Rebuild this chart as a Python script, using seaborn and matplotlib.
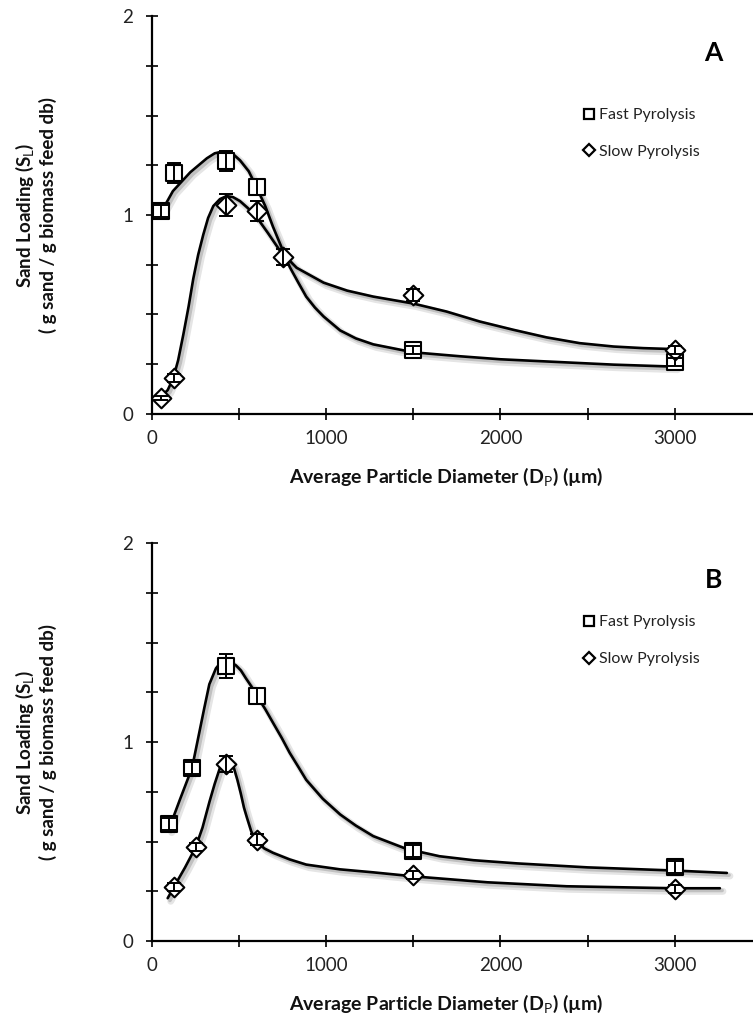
import matplotlib
matplotlib.use("Agg")
import matplotlib.pyplot as plt
import matplotlib.patheffects as pe
from matplotlib.lines import Line2D
from matplotlib.ticker import MultipleLocator, FixedLocator
import pandas as pd
import seaborn as sns

sns.set_style("white")
plt.rcParams["font.family"] = ["Lato", "DejaVu Sans"]
plt.rcParams["mathtext.fontset"] = "custom"
plt.rcParams["mathtext.rm"] = "Lato"
plt.rcParams["mathtext.bf"] = "Lato:bold"

# ---- Panel A: measured sand loading (mean and error) ----
dp_a_fast = [50, 125, 425, 600, 1500, 3000]
sl_a_fast = [1.02, 1.21, 1.27, 1.14, 0.32, 0.26]
err_a_fast = [0.03, 0.05, 0.05, 0.04, 0.02, 0.02]

dp_a_slow = [50, 125, 425, 600, 750, 1500, 3000]
sl_a_slow = [0.08, 0.18, 1.05, 1.02, 0.79, 0.60, 0.32]
err_a_slow = [0.01, 0.02, 0.055, 0.05, 0.04, 0.03, 0.02]

# ---- Panel A: fitted trend curves ----
fit_a_fast_x = [50, 120, 220, 315, 360, 410, 460, 505, 555, 600, 650, 695, 745, 790, 840,
                885, 935, 985, 1080, 1170, 1270, 1500, 1770, 2000, 2265, 2650, 3000]
fit_a_fast_y = [1.01, 1.12, 1.215, 1.285, 1.31, 1.32, 1.31, 1.275, 1.22, 1.14, 1.045, 0.94,
                0.835, 0.74, 0.66, 0.59, 0.535, 0.49, 0.42, 0.38, 0.35, 0.31, 0.29, 0.275,
                0.264, 0.248, 0.238]

fit_a_slow_x = [50, 90, 122, 150, 180, 210, 237, 265, 294, 322, 352, 390, 428, 465, 505, 550,
                600, 665, 735, 830, 985, 1120, 1270, 1500, 1690, 1880, 2075, 2265, 2455, 2650,
                2820, 3000]
fit_a_slow_y = [0.085, 0.12, 0.18, 0.27, 0.40, 0.54, 0.68, 0.80, 0.90, 0.985, 1.045, 1.08,
                1.095, 1.09, 1.07, 1.035, 0.99, 0.91, 0.82, 0.735, 0.66, 0.62, 0.59, 0.555,
                0.515, 0.465, 0.423, 0.385, 0.356, 0.339, 0.331, 0.326]

# ---- Panel B: measured sand loading (mean and error) ----
dp_b_fast = [100, 230, 425, 600, 1500, 3000]
sl_b_fast = [0.59, 0.87, 1.38, 1.23, 0.45, 0.37]
err_b_fast = [0.03, 0.03, 0.06, 0.04, 0.03, 0.03]

dp_b_slow = [125, 250, 425, 600, 1500, 3000]
sl_b_slow = [0.27, 0.47, 0.89, 0.51, 0.33, 0.26]
err_b_slow = [0.02, 0.02, 0.04, 0.03, 0.02, 0.02]

# ---- Panel B: fitted trend curves ----
fit_b_fast_x = [96, 160, 230, 272, 300, 329, 367, 395, 415, 445, 482, 510, 539, 570, 600, 650,
                695, 745, 790, 840, 885, 980, 1080, 1170, 1270, 1460, 1650, 1845, 2095, 2500,
                3000, 3300]
fit_b_fast_y = [0.56, 0.71, 0.87, 1.05, 1.17, 1.29, 1.37, 1.40, 1.41, 1.405, 1.385, 1.36,
                1.32, 1.28, 1.235, 1.165, 1.096, 1.02, 0.946, 0.875, 0.81, 0.715, 0.636,
                0.58, 0.527, 0.463, 0.426, 0.406, 0.39, 0.37, 0.354, 0.342]

fit_b_slow_x = [90, 125, 190, 250, 290, 330, 360, 390, 412, 432, 452, 470, 490, 510, 528, 545,
                570, 600, 645, 695, 790, 885, 1080, 1270, 1500, 1925, 2380, 3000, 3260]
fit_b_slow_y = [0.215, 0.27, 0.37, 0.47, 0.57, 0.70, 0.79, 0.87, 0.905, 0.915, 0.905, 0.87,
                0.81, 0.74, 0.67, 0.62, 0.55, 0.50, 0.465, 0.443, 0.41, 0.384, 0.36, 0.345,
                0.325, 0.295, 0.275, 0.265, 0.265]

XLABEL = "Average Particle Diameter (D$_\\mathrm{P}$) (µm)"
YLABEL = "Sand Loading (S$_\\mathrm{L}$)\n( g sand / g biomass feed db)"

W, H = 753, 1026
fig = plt.figure(figsize=(W / 100, H / 100), dpi=100)

shadow = [pe.SimpleLineShadow(offset=(2.2, -2.2), shadow_color="black", alpha=0.10, linewidth=5),
          pe.SimpleLineShadow(offset=(1.6, -1.6), shadow_color="black", alpha=0.16, linewidth=2.6),
          pe.Normal()]


def draw_panel(ax, fast, slow, fit_fast, fit_slow, letter, legend_y):
    for fx, fy in (fit_fast, fit_slow):
        d = pd.DataFrame({"dp": fx, "sl": fy})
        sns.lineplot(data=d, x="dp", y="sl", ax=ax, color="black", lw=1.9, sort=False,
                     estimator=None, solid_joinstyle="round", solid_capstyle="round",
                     path_effects=shadow, zorder=2)
    for (dx, dy, de), mk, ms in ((fast, "s", 135), (slow, "D", 100)):
        d = pd.DataFrame({"dp": dx, "sl": dy})
        sns.scatterplot(data=d, x="dp", y="sl", ax=ax, marker=mk, s=ms, facecolor="white",
                        edgecolor="black", linewidth=1.5, zorder=3)
        ax.errorbar(dx, dy, yerr=de, fmt="none", ecolor="black", elinewidth=1.4,
                    capsize=5, capthick=1.4, zorder=4)

    ax.set_xlim(0, 3450)
    ax.set_ylim(0, 2)
    ax.xaxis.set_major_locator(FixedLocator([0, 1000, 2000, 3000]))
    ax.xaxis.set_minor_locator(MultipleLocator(500))
    ax.yaxis.set_major_locator(FixedLocator([0, 1, 2]))
    ax.yaxis.set_minor_locator(MultipleLocator(0.25))
    ax.tick_params(which="both", direction="inout", length=9, width=1.2, color="black",
                   labelsize=13.5, labelcolor="#222222")
    ax.tick_params(axis="y", which="both", left=True, pad=9)
    ax.tick_params(axis="x", which="both", bottom=True, pad=7)
    for side in ("top", "right"):
        ax.spines[side].set_visible(False)
    for side in ("left", "bottom"):
        ax.spines[side].set_color("black")
        ax.spines[side].set_linewidth(1.6)

    ax.set_xlabel(XLABEL, fontsize=14, fontweight="bold", color="#111111")
    ax.xaxis.set_label_coords(0.49, -0.158)
    ax.xaxis.label.set_verticalalignment("center")
    ax.set_ylabel(YLABEL, fontsize=13.5, fontweight="bold", color="#111111", linespacing=1.2)
    ax.yaxis.set_label_coords(-0.195, 0.5)
    ax.yaxis.label.set_verticalalignment("center")

    ax.text(0.934, 0.907, letter, transform=ax.transAxes, fontsize=19, fontweight="bold",
            ha="center", va="center", color="black")

    handles = [Line2D([], [], marker="s", ls="none", mfc="white", mec="black", ms=7.5, mew=1.6),
               Line2D([], [], marker="D", ls="none", mfc="white", mec="black", ms=6.5, mew=1.6)]
    ax.legend(handles, ["Fast Pyrolysis", "Slow Pyrolysis"], loc="upper left",
              bbox_to_anchor=(0.708, legend_y), frameon=False, fontsize=11.5,
              handlelength=0.7, handletextpad=0.25, labelspacing=1.42, borderaxespad=0,
              labelcolor="#222222")


axA = fig.add_axes([152 / W, 1 - 414 / H, (W - 152) / W, (414 - 16) / H])
axB = fig.add_axes([152 / W, 1 - 941 / H, (W - 152) / W, (941 - 543) / H])
for a in (axA, axB):
    a.set_facecolor("white")
    a.patch.set_alpha(0)

draw_panel(axA, (dp_a_fast, sl_a_fast, err_a_fast), (dp_a_slow, sl_a_slow, err_a_slow),
           (fit_a_fast_x, fit_a_fast_y), (fit_a_slow_x, fit_a_slow_y), "A", 0.785)
draw_panel(axB, (dp_b_fast, sl_b_fast, err_b_fast), (dp_b_slow, sl_b_slow, err_b_slow),
           (fit_b_fast_x, fit_b_fast_y), (fit_b_slow_x, fit_b_slow_y), "B", 0.835)

fig.savefig("out.png", dpi=100, facecolor="white")
